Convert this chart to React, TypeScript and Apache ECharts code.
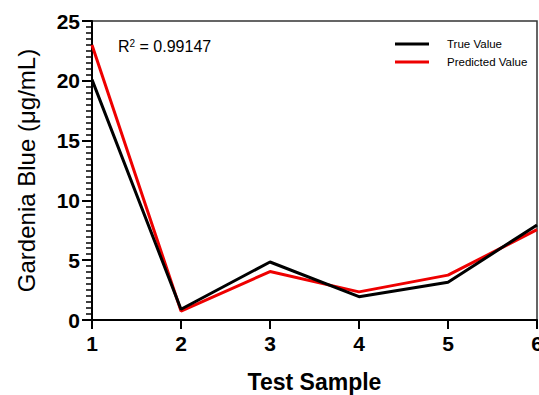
import React, { useEffect, useRef } from "react";
import * as echarts from "echarts";

const samples = [1, 2, 3, 4, 5, 6];
const trueValues = [20.1, 0.9, 4.85, 1.95, 3.15, 7.95];
const predictedValues = [23.0, 0.75, 4.05, 2.35, 3.75, 7.55];
const yTicks = [0, 5, 10, 15, 20, 25];
const r2Label = "0.99147";

export default function App() {
  const ref = useRef<HTMLDivElement>(null);
  useEffect(() => {
    if (!ref.current) return;
    const chart = echarts.init(ref.current, undefined, { renderer: "svg" });
    const font = "Liberation Sans, Arial, Helvetica, sans-serif";
    chart.setOption({
      animation: false,
      backgroundColor: "#ffffff",
      grid: {
        left: 92,
        right: 2,
        top: 21,
        bottom: 75,
        outerBoundsMode: "none",
        containLabel: false,
        show: true,
        borderColor: "#333",
        borderWidth: 1.5,
        backgroundColor: "transparent",
      },
      legend: {
        orient: "vertical",
        left: 395,
        top: 38,
        padding: 0,
        itemWidth: 34,
        itemHeight: 3,
        itemGap: 6,
        icon: "rect",
        textStyle: { fontFamily: font, fontSize: 11.5, color: "#000", padding: [0, 0, 0, 13] },
        data: ["True Value", "Predicted Value"],
      },
      xAxis: {
        type: "value",
        min: samples[0],
        max: samples[samples.length - 1],
        interval: 1,
        name: "Test Sample",
        nameLocation: "middle",
        nameGap: 50,
        nameTextStyle: { fontFamily: font, fontSize: 23, fontWeight: "bold", color: "#000" },
        axisLine: { show: true, lineStyle: { color: "#000", width: 2 } },
        axisTick: { show: true, length: 9, lineStyle: { color: "#000", width: 2 } },
        axisLabel: { fontFamily: font, fontSize: 21, fontWeight: "bold", color: "#000", margin: 13 },
        splitLine: { show: false },
      },
      yAxis: {
        type: "value",
        min: yTicks[0],
        max: yTicks[yTicks.length - 1],
        interval: 5,
        name: "Gardenia Blue (μg/mL)",
        nameLocation: "middle",
        nameGap: 54,
        nameTextStyle: { fontFamily: font, fontSize: 24, color: "#000" },
        axisLine: { show: true, lineStyle: { color: "#000", width: 2 } },
        axisTick: { show: true, length: 10, lineStyle: { color: "#000", width: 2 } },
        minorTick: { show: true, splitNumber: 10, length: 6, lineStyle: { color: "#000", width: 1.5 } },
        axisLabel: { fontFamily: font, fontSize: 21, fontWeight: "bold", color: "#000", margin: 12 },
        splitLine: { show: false },
      },
      graphic: [
        {
          type: "text",
          left: 118,
          top: 38,
          style: {
            text: "{r|R}{s|2}{r| = " + r2Label + "}",
            rich: {
              r: { fontFamily: font, fontSize: 16, fill: "#000", verticalAlign: "bottom" },
              s: { fontFamily: font, fontSize: 10, fill: "#000", verticalAlign: "top", padding: [0, 0, 6, 0] },
            },
          },
        },
      ],
      series: [
        {
          name: "True Value",
          type: "line",
          data: samples.map((s, i) => [s, trueValues[i]]),
          symbol: "none",
          lineStyle: { color: "#000", width: 3 },
          itemStyle: { color: "#000" },
          z: 3,
        },
        {
          name: "Predicted Value",
          type: "line",
          data: samples.map((s, i) => [s, predictedValues[i]]),
          symbol: "none",
          lineStyle: { color: "#ee0000", width: 3 },
          itemStyle: { color: "#ee0000" },
          z: 2,
        },
      ],
    });
    return () => chart.dispose();
  }, []);
  return <div ref={ref} style={{ width: 539, height: 395, position: "absolute", left: 0, top: 0 }} />;
}
